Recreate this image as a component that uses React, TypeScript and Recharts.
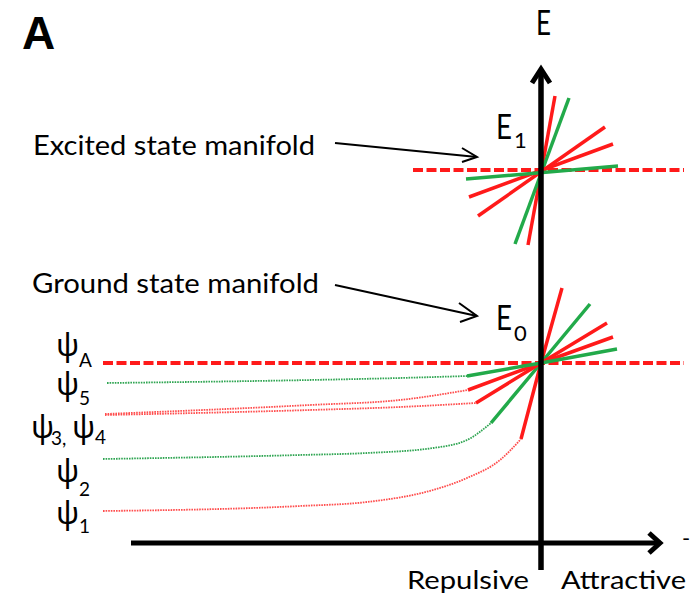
import { ComposedChart, Line, XAxis, YAxis } from 'recharts';

// units: 1 = 1px, origin where the two axes cross
const W = 696;
const H = 594;
const X_DOMAIN = [-541, 155];
const Y_DOMAIN = [-51, 543];

const RED = '#ff1a1a';
const GREEN = '#22aa4a';
const RED_DOT = '#ff4d4d';
const GREEN_DOT = '#2fa552';

type P = { x: number; y: number };

// axes + arrowheads
const xAxisLine: P[] = [{ x: -410, y: 0 }, { x: 118, y: 0 }];
const xAxisHead: P[] = [{ x: 108, y: 10 }, { x: 119, y: 0 }, { x: 108, y: -10 }];
const yAxisLine: P[] = [{ x: 0, y: -27 }, { x: 0, y: 472 }];
const yAxisHead: P[] = [{ x: -9, y: 460 }, { x: 0, y: 474 }, { x: 9, y: 460 }];

// energy levels
const levelE1: P[] = [{ x: -128, y: 373 }, { x: 143, y: 373 }];
const levelE0: P[] = [{ x: -438, y: 180 }, { x: 143, y: 180 }];

// pointer arrows from the labels
const excitedArrow: P[] = [{ x: -206, y: 400 }, { x: -64, y: 386 }];
const excitedHead: P[] = [{ x: -79, y: 395 }, { x: -64, y: 386 }, { x: -79, y: 381 }];
const groundArrow: P[] = [{ x: -206, y: 258 }, { x: -64, y: 227 }];
const groundHead: P[] = [{ x: -82, y: 240 }, { x: -64, y: 227 }, { x: -81, y: 221 }];

// excited state fan (through E1)
const e1Fan1: P[] = [{ x: -13, y: 298 }, { x: 14, y: 447 }];
const e1Fan2: P[] = [{ x: -26, y: 299 }, { x: 28, y: 445 }];
const e1Fan3: P[] = [{ x: -63, y: 327 }, { x: 64, y: 416 }];
const e1Fan4: P[] = [{ x: -72, y: 346 }, { x: 72, y: 399 }];
const e1Fan5: P[] = [{ x: -75, y: 364 }, { x: 77, y: 377 }];

// ground state fan (through E0)
const psi1Fan: P[] = [{ x: -20, y: 104 }, { x: 0, y: 180 }, { x: 21, y: 255 }];
const psi2Fan: P[] = [{ x: -50, y: 120 }, { x: 0, y: 180 }, { x: 49, y: 239 }];
const psi3Fan: P[] = [{ x: -65, y: 140 }, { x: 0, y: 180 }, { x: 66, y: 220 }];
const psi4Fan: P[] = [{ x: -73, y: 153 }, { x: 0, y: 180 }, { x: 72, y: 206 }];
const psi5Fan: P[] = [{ x: -74, y: 167 }, { x: 0, y: 180 }, { x: 76, y: 194 }];

// dotted continuations on the repulsive side
const psi1Tail: P[] = [
  { x: -438, y: 32 }, { x: -241, y: 37 }, { x: -174, y: 41 }, { x: -108, y: 53 },
  { x: -74, y: 65 }, { x: -41, y: 83 }, { x: -20, y: 104 },
];
const psi2Tail: P[] = [
  { x: -438, y: 84 }, { x: -241, y: 88 }, { x: -174, y: 90 }, { x: -108, y: 95 },
  { x: -74, y: 103 }, { x: -50, y: 120 },
];
const psi3Tail: P[] = [{ x: -436, y: 128 }, { x: -231, y: 133 }, { x: -141, y: 136 }, { x: -65, y: 140 }];
const psi4Tail: P[] = [{ x: -436, y: 129 }, { x: -231, y: 138 }, { x: -141, y: 143 }, { x: -73, y: 153 }];
const psi5Tail: P[] = [{ x: -434, y: 160 }, { x: -231, y: 163 }, { x: -141, y: 165 }, { x: -74, y: 167 }];

const seg = (data: P[], stroke: string, width: number, extra: Record<string, unknown> = {}) => (
  <Line
    data={data}
    dataKey="y"
    type="linear"
    stroke={stroke}
    strokeWidth={width}
    dot={false}
    activeDot={false}
    isAnimationActive={false}
    {...extra}
  />
);

const sans = 'Lato, "Noto Sans", sans-serif';
const greek = '"Noto Sans", "DejaVu Sans", sans-serif';
const dotted = { type: 'monotone', strokeDasharray: '1.6 1' };

// ψ with a subscript, as one text element
function Psi({ x, y, sub, subY }: { x: number; y: number; sub: string; subY: number }) {
  return (
    <text fontFamily={sans} fontSize={19}>
      <tspan x={x} y={y} fontFamily={greek} fontSize={31}>ψ</tspan>
      <tspan x={x + 23} y={subY}>{sub}</tspan>
    </text>
  );
}

function Labels() {
  return (
    <svg width={W} height={H} style={{ position: 'absolute', left: 0, top: 0, pointerEvents: 'none' }}>
      <text x={22} y={49} fontFamily='"Liberation Sans", Arial' fontWeight="bold" fontSize={46}>A</text>
      <text x={536} y={35} fontFamily={sans} fontSize={34} textLength={15} lengthAdjust="spacingAndGlyphs">E</text>

      <text x={33} y={155} fontFamily={sans} fontSize={27} textLength={282} lengthAdjust="spacingAndGlyphs">Excited state manifold</text>
      <text x={32} y={293} fontFamily={sans} fontSize={27} textLength={287} lengthAdjust="spacingAndGlyphs">Ground state manifold</text>

      <text fontFamily={sans} fontSize={22}>
        <tspan x={496} y={139} fontSize={35} textLength={16} lengthAdjust="spacingAndGlyphs">E</tspan>
        <tspan x={514} y={148}>1</tspan>
      </text>
      <text fontFamily={sans} fontSize={22}>
        <tspan x={496} y={330} fontSize={35} textLength={16} lengthAdjust="spacingAndGlyphs">E</tspan>
        <tspan x={514} y={341}>0</tspan>
      </text>

      <Psi x={56} y={356} sub="A" subY={367} />
      <Psi x={56} y={395} sub="5" subY={405} />
      <text fontFamily={sans} fontSize={19}>
        <tspan x={31} y={438} fontFamily={greek} fontSize={31}>ψ</tspan>
        <tspan x={51} y={445}>3,</tspan>
        <tspan x={72} y={438} fontFamily={greek} fontSize={31}>ψ</tspan>
        <tspan x={95} y={444}>4</tspan>
      </text>
      <Psi x={56} y={482} sub="2" subY={496} />
      <Psi x={56} y={524} sub="1" subY={533} />

      <text x={407} y={589} fontFamily={sans} fontSize={25} textLength={122} lengthAdjust="spacingAndGlyphs">Repulsive</text>
      <text x={561} y={589} fontFamily={sans} fontSize={25} textLength={125} lengthAdjust="spacingAndGlyphs">Attractive</text>
      <text x={682} y={546} fontFamily={sans} fontSize={22}>-</text>
    </svg>
  );
}

export default function App() {
  return (
    <div style={{ position: 'absolute', left: 0, top: 0, width: W, height: H, background: '#fff' }}>
      <ComposedChart width={W} height={H} margin={{ top: 0, right: 0, bottom: 0, left: 0 }}>
        <XAxis type="number" dataKey="x" domain={X_DOMAIN} allowDataOverflow hide />
        <YAxis type="number" domain={Y_DOMAIN} allowDataOverflow hide />

        {seg(psi1Tail, RED_DOT, 1.8, dotted)}
        {seg(psi2Tail, GREEN_DOT, 1.8, dotted)}
        {seg(psi3Tail, RED_DOT, 1.8, dotted)}
        {seg(psi4Tail, RED_DOT, 1.8, dotted)}
        {seg(psi5Tail, GREEN_DOT, 1.8, dotted)}

        {seg(levelE1, RED, 4, { strokeDasharray: '10 3.5' })}
        {seg(levelE0, RED, 4, { strokeDasharray: '10 3.5' })}

        {seg(e1Fan1, RED, 3.5)}
        {seg(e1Fan2, GREEN, 3.5)}
        {seg(e1Fan3, RED, 3.5)}
        {seg(e1Fan4, RED, 3.5)}
        {seg(e1Fan5, GREEN, 3.5)}

        {seg(psi1Fan, RED, 3.5)}
        {seg(psi2Fan, GREEN, 3.5)}
        {seg(psi3Fan, RED, 3.5)}
        {seg(psi4Fan, RED, 3.5)}
        {seg(psi5Fan, GREEN, 3.5)}

        {seg(xAxisLine, '#000', 5)}
        {seg(xAxisHead, '#000', 5, { strokeLinejoin: 'miter' })}
        {seg(yAxisLine, '#000', 5.5)}
        {seg(yAxisHead, '#000', 5, { strokeLinejoin: 'miter' })}

        {seg(excitedArrow, '#000', 2)}
        {seg(excitedHead, '#000', 2)}
        {seg(groundArrow, '#000', 2)}
        {seg(groundHead, '#000', 2)}
      </ComposedChart>
      <Labels />
    </div>
  );
}
